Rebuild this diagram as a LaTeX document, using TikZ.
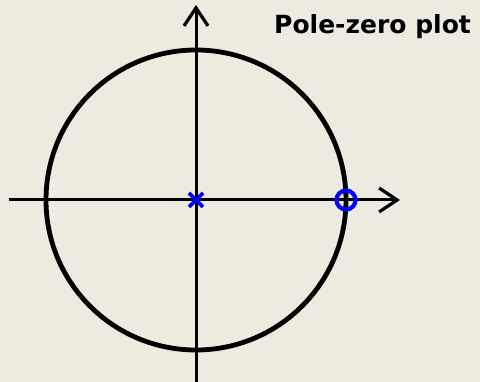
\documentclass[tikz,border=0pt]{standalone}
\usepackage{fontspec}
\setmainfont{DejaVu Sans}
\usetikzlibrary{arrows.meta,calc}
\definecolor{bgbeige}{RGB}{237,234,224}
\definecolor{plotblue}{RGB}{0,0,255}
\tikzset{
  axisline/.style={line width=3pt, black, -{Straight Barb[length=18pt,width=24pt,line width=3.2pt]}},
  unitcircle/.style={line width=4.8pt, black},
  polemark/.style={line width=3.6pt, plotblue},
  zeromark/.style={line width=4.2pt, plotblue},
}
\begin{document}
\begin{tikzpicture}[x=1pt,y=-1pt]
\fill[bgbeige] (0,0) rectangle (480,382);
\useasboundingbox (0,0) rectangle (480,382);
\coordinate (O) at (196,200);
\coordinate (xl) at (9,200);
\coordinate (xr) at (400,200);
\coordinate (yb) at (196,382);
\coordinate (yt) at (196,5);
\coordinate (Z) at (346,200);
\draw[unitcircle] (O) circle[radius=150];
\draw[axisline] (xl) -- (xr);
\draw[axisline] (yb) -- (yt);
\draw[polemark] ($(O)+(-7,-7)$) -- ($(O)+(7,7)$) ($(O)+(-7,7)$) -- ($(O)+(7,-7)$);
\draw[zeromark] (Z) circle[radius=9.5];
\node[anchor=base west, inner sep=0pt, font=\bfseries\fontsize{25}{28}\selectfont] (title) at (274,34) {Pole-zero plot};
\end{tikzpicture}
\end{document}
